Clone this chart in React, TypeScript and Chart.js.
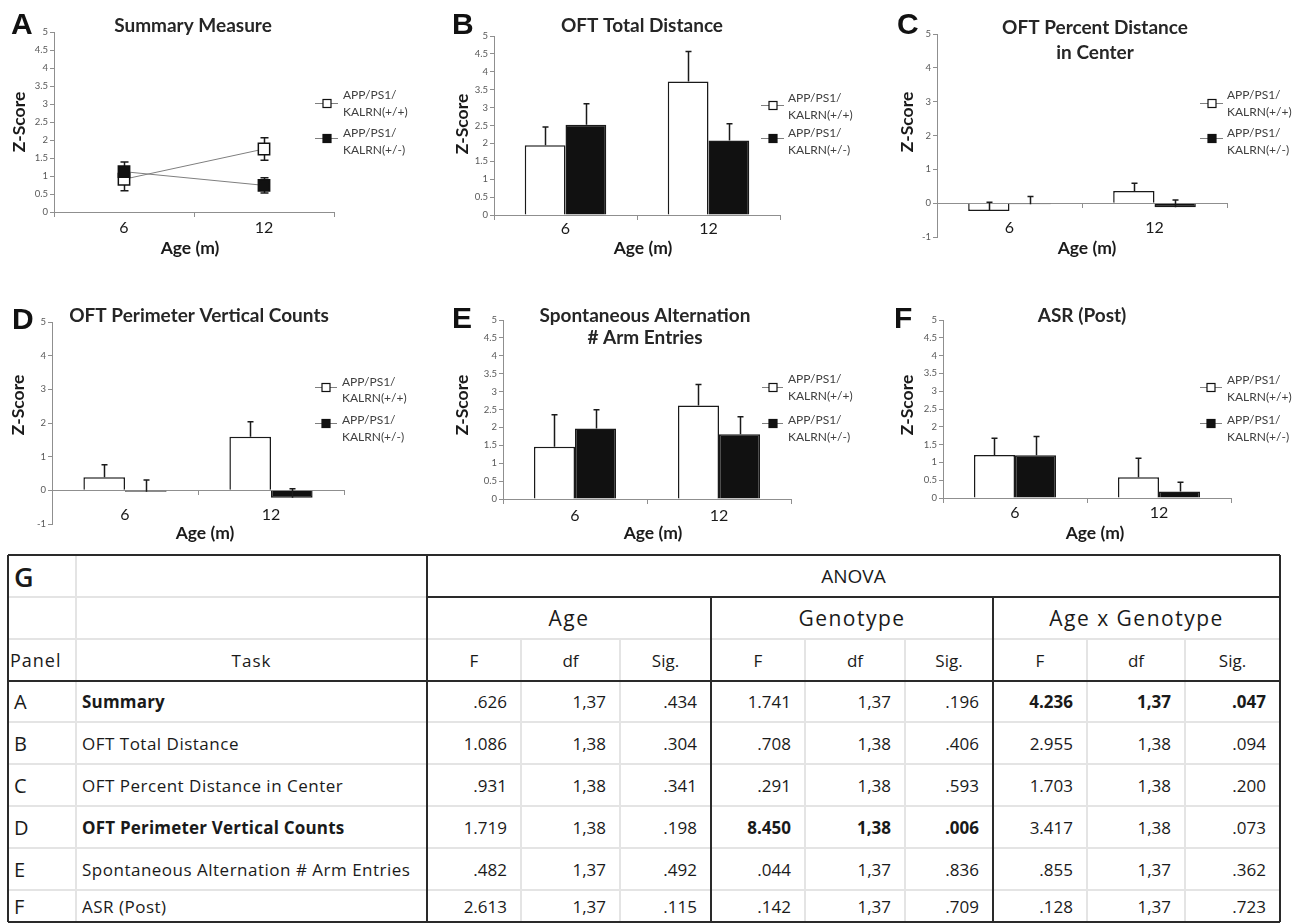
import React, { useEffect, useRef } from 'react';
import { Chart, registerables } from 'chart.js';

Chart.register(...registerables);
Chart.defaults.font.family = 'Lato, "Open Sans", sans-serif';

// ---------------- DATA ----------------
const AGES = ['6', '12'];
const LEGEND_LINES = [
  ['APP/PS1/', 'KALRN(+/+)'],
  ['APP/PS1/', 'KALRN(+/-)'],
];
const SERIES_NAMES = ['APP/PS1/KALRN(+/+)', 'APP/PS1/KALRN(+/-)'];
const Y_TITLE = 'Z-Score';
const X_TITLE = 'Age (m)';

// Panel A – Summary Measure (mean ± SEM)
const A_WT = [0.91, 1.75];
const A_WT_ERR = [0.32, 0.31];
const A_HET = [1.12, 0.74];
const A_HET_ERR = [0.27, 0.21];
// Panel B – OFT Total Distance
const B_WT = [1.95, 3.73];
const B_WT_ERR = [0.51, 0.84];
const B_HET = [2.52, 2.08];
const B_HET_ERR = [0.59, 0.47];
// Panel C – OFT Percent Distance in Center
const C_WT = [-0.23, 0.36];
const C_WT_ERR = [0.26, 0.23];
const C_HET = [-0.03, -0.12];
const C_HET_ERR = [0.23, 0.21];
// Panel D – OFT Perimeter Vertical Counts
const D_WT = [0.39, 1.59];
const D_WT_ERR = [0.37, 0.45];
const D_HET = [-0.04, -0.22];
const D_HET_ERR = [0.35, 0.27];
// Panel E – Spontaneous Alternation # Arm Entries
const E_WT = [1.46, 2.61];
const E_WT_ERR = [0.89, 0.59];
const E_HET = [1.97, 1.81];
const E_HET_ERR = [0.52, 0.49];
// Panel F – ASR (Post)
const F_WT = [1.21, 0.58];
const F_WT_ERR = [0.47, 0.54];
const F_HET = [1.2, 0.18];
const F_HET_ERR = [0.53, 0.26];

// Table G
const TABLE_LETTER = 'G';
const TABLE_TITLE = 'ANOVA';
const TABLE_GROUPS = ['Age', 'Genotype', 'Age x Genotype'];
const TABLE_STATS = ['F', 'df', 'Sig.'];
const TABLE_PANEL_HEAD = 'Panel';
const TABLE_TASK_HEAD = 'Task';
const TABLE_PANELS = ['A', 'B', 'C', 'D', 'E', 'F'];
const TABLE_TASKS = [
  'Summary',
  'OFT Total Distance',
  'OFT Percent Distance in Center',
  'OFT Perimeter Vertical Counts',
  'Spontaneous Alternation # Arm Entries',
  'ASR (Post)',
];
const AGE_F = ['.626', '1.086', '.931', '1.719', '.482', '2.613'];
const AGE_DF = ['1,37', '1,38', '1,38', '1,38', '1,37', '1,37'];
const AGE_SIG = ['.434', '.304', '.341', '.198', '.492', '.115'];
const GEN_F = ['1.741', '.708', '.291', '8.450', '.044', '.142'];
const GEN_DF = ['1,37', '1,38', '1,38', '1,38', '1,37', '1,37'];
const GEN_SIG = ['.196', '.406', '.593', '.006', '.836', '.709'];
const INT_F = ['4.236', '2.955', '1.703', '3.417', '.855', '.128'];
const INT_DF = ['1,37', '1,38', '1,38', '1,38', '1,37', '1,37'];
const INT_SIG = ['.047', '.094', '.200', '.073', '.362', '.723'];
const BOLD_TASK = [true, false, false, true, false, false];
const BOLD_AGE = [false, false, false, false, false, false];
const BOLD_GEN = [false, false, false, true, false, false];
const BOLD_INT = [true, false, false, false, false, false];

// ---------------- STYLE / LAYOUT ----------------
const YW = 30;
const AXIS_COLOR = '#8f8f8f';
const BAR_BORDER = '#1a1a1a';
const BLACK = '#111111';

type Panel = {
  letter: string;
  kind: 'line' | 'bar';
  title: string[];
  wt: number[]; wtErr: number[]; het: number[]; hetErr: number[];
  x: number; y: number; w: number; h: number;
  area: { left: number; right: number; top: number; bottom: number };
  yMin: number; yMax: number; yStep: number;
  tickPad: number;
  letterPos: [number, number];
  titleX: number; titleY: number[];
  zPos: [number, number];
  agePos: [number, number];
  leg: { mx1: number; mx2: number; tx: number; ty: number[]; my: number[] };
};

const PANELS: Panel[] = [
  {
    letter: 'A', kind: 'line', title: ['Summary Measure'],
    wt: A_WT, wtErr: A_WT_ERR, het: A_HET, hetErr: A_HET_ERR,
    x: 0, y: 0, w: 430, h: 292,
    area: { left: 54, right: 334, top: 32, bottom: 212 },
    yMin: 0, yMax: 5, yStep: 0.5, tickPad: 2,
    letterPos: [11, 34], titleX: 193, titleY: [26], zPos: [19, 122], agePos: [190, 248],
    leg: { mx1: 315, mx2: 338, tx: 343, ty: [95, 112, 133, 150], my: [103, 138] },
  },
  {
    letter: 'B', kind: 'bar', title: ['OFT Total Distance'],
    wt: B_WT, wtErr: B_WT_ERR, het: B_HET, hetErr: B_HET_ERR,
    x: 430, y: 0, w: 430, h: 292,
    area: { left: 64, right: 350, top: 36, bottom: 215 },
    yMin: 0, yMax: 5, yStep: 0.5, tickPad: 0,
    letterPos: [22, 34], titleX: 212, titleY: [26], zPos: [32, 124], agePos: [213, 248],
    leg: { mx1: 331, mx2: 354, tx: 358, ty: [98, 115, 133, 150], my: [105, 138] },
  },
  {
    letter: 'C', kind: 'bar', title: ['OFT Percent Distance', 'in Center'],
    wt: C_WT, wtErr: C_WT_ERR, het: C_HET, hetErr: C_HET_ERR,
    x: 860, y: 0, w: 443, h: 292,
    area: { left: 77, right: 367, top: 34, bottom: 237 },
    yMin: -1, yMax: 5, yStep: 1, tickPad: 11,
    letterPos: [37, 34], titleX: 235, titleY: [28, 53], zPos: [47, 122], agePos: [227, 248],
    leg: { mx1: 340, mx2: 363, tx: 367, ty: [95, 112, 133, 150], my: [103, 138] },
  },
  {
    letter: 'D', kind: 'bar', title: ['OFT Perimeter Vertical Counts'],
    wt: D_WT, wtErr: D_WT_ERR, het: D_HET, hetErr: D_HET_ERR,
    x: 0, y: 292, w: 430, h: 258,
    area: { left: 52, right: 344, top: 30, bottom: 232 },
    yMin: -1, yMax: 5, yStep: 1, tickPad: 11,
    letterPos: [12, 37], titleX: 199, titleY: [24], zPos: [18, 113], agePos: [205, 241],
    leg: { mx1: 315, mx2: 337, tx: 342, ty: [90, 106, 128, 145], my: [95, 131] },
  },
  {
    letter: 'E', kind: 'bar', title: ['Spontaneous Alternation', '# Arm Entries'],
    wt: E_WT, wtErr: E_WT_ERR, het: E_HET, hetErr: E_HET_ERR,
    x: 430, y: 292, w: 430, h: 258,
    area: { left: 73, right: 361, top: 28, bottom: 207 },
    yMin: 0, yMax: 5, yStep: 0.5, tickPad: 3,
    letterPos: [22, 36], titleX: 215, titleY: [24, 46], zPos: [32, 113], agePos: [223, 241],
    leg: { mx1: 332, mx2: 353, tx: 358, ty: [87, 104, 128, 145], my: [95, 131] },
  },
  {
    letter: 'F', kind: 'bar', title: ['ASR (Post)'],
    wt: F_WT, wtErr: F_WT_ERR, het: F_HET, hetErr: F_HET_ERR,
    x: 860, y: 292, w: 443, h: 258,
    area: { left: 83, right: 371, top: 28, bottom: 206 },
    yMin: 0, yMax: 5, yStep: 0.5, tickPad: 1,
    letterPos: [34, 36], titleX: 222, titleY: [24], zPos: [47, 113], agePos: [235, 241],
    leg: { mx1: 340, mx2: 362, tx: 367, ty: [88, 105, 128, 145], my: [95, 131] },
  },
];

function drawErrors(chart: any, both: boolean, cap: number) {
  const ctx = chart.ctx;
  const ys = chart.scales.y;
  ctx.save();
  ctx.strokeStyle = '#1a1a1a';
  ctx.lineWidth = 1.5;
  chart.data.datasets.forEach((ds: any, i: number) => {
    const meta = chart.getDatasetMeta(i);
    meta.data.forEach((el: any, j: number) => {
      const v = ds.data[j];
      const e = ds.errors[j];
      const x = Math.round(el.x) + 0.5;
      const yTop = ys.getPixelForValue(v + e);
      const yBot = ys.getPixelForValue(both ? v - e : v);
      ctx.beginPath();
      ctx.moveTo(x, yBot);
      ctx.lineTo(x, yTop);
      ctx.moveTo(x - cap, yTop);
      ctx.lineTo(x + cap, yTop);
      if (both) {
        ctx.moveTo(x - cap, yBot);
        ctx.lineTo(x + cap, yBot);
      }
      ctx.stroke();
    });
  });
  ctx.restore();
}

const errorBarsPlugin = {
  id: 'errorBars',
  beforeDatasetsDraw(chart: any, _a: any, opts: any) {
    if (opts.both) drawErrors(chart, true, 4);
  },
  afterDatasetsDraw(chart: any, _a: any, opts: any) {
    if (!opts.both) drawErrors(chart, false, 3);
  },
};

function makeDecor(p: Panel) {
  return {
    id: 'decor',
    afterDraw(chart: any) {
      const ctx = chart.ctx;
      ctx.save();
      // panel letter
      ctx.fillStyle = '#111';
      ctx.textAlign = 'left';
      ctx.textBaseline = 'alphabetic';
      ctx.font = 'bold 30px "Liberation Sans", Arial, sans-serif';
      ctx.fillText(p.letter, p.letterPos[0], p.letterPos[1]);
      // title
      ctx.fillStyle = '#262626';
      ctx.textAlign = 'center';
      ctx.textBaseline = 'middle';
      ctx.font = 'bold 19px Lato, sans-serif';
      p.title.forEach((t, i) => ctx.fillText(t, p.titleX, p.titleY[i]));
      // x title
      ctx.font = 'bold 17.5px Lato, sans-serif';
      ctx.fillStyle = '#1a1a1a';
      ctx.fillText(X_TITLE, p.agePos[0], p.agePos[1]);
      // y title
      ctx.save();
      ctx.translate(p.zPos[0], p.zPos[1]);
      ctx.rotate(-Math.PI / 2);
      ctx.fillText(Y_TITLE, 0, 0);
      ctx.restore();
      // legend
      const fills = ['#ffffff', BLACK];
      for (let k = 0; k < 2; k++) {
        const my = p.leg.my[k] + 0.5;
        ctx.strokeStyle = '#7f7f7f';
        ctx.lineWidth = 1;
        ctx.beginPath();
        ctx.moveTo(p.leg.mx1, my);
        ctx.lineTo(p.leg.mx2, my);
        ctx.stroke();
        const cx = Math.round((p.leg.mx1 + p.leg.mx2) / 2);
        ctx.fillStyle = fills[k];
        ctx.fillRect(cx - 4, my - 4, 8, 8);
        ctx.strokeStyle = '#111';
        ctx.lineWidth = 1.2;
        ctx.strokeRect(cx - 4, my - 4, 8, 8);
        ctx.fillStyle = '#404040';
        ctx.textAlign = 'left';
        ctx.font = '12px Lato, sans-serif';
        ctx.fillText(LEGEND_LINES[k][0], p.leg.tx, p.leg.ty[k * 2]);
        ctx.fillText(LEGEND_LINES[k][1], p.leg.tx, p.leg.ty[k * 2 + 1]);
      }
      ctx.restore();
    },
  };
}

function buildConfig(p: Panel): any {
  const isLine = p.kind === 'line';
  const datasets = isLine
    ? [
        {
          label: SERIES_NAMES[0], data: p.wt, errors: p.wtErr, order: 1,
          borderColor: '#7f7f7f', borderWidth: 1, tension: 0,
          pointStyle: 'rect', pointRadius: 8, pointBackgroundColor: '#ffffff',
          pointBorderColor: '#111', pointBorderWidth: 1.5,
        },
        {
          label: SERIES_NAMES[1], data: p.het, errors: p.hetErr, order: 0,
          borderColor: '#7f7f7f', borderWidth: 1, tension: 0,
          pointStyle: 'rect', pointRadius: 8, pointBackgroundColor: BLACK,
          pointBorderColor: '#111', pointBorderWidth: 1.5,
        },
      ]
    : [
        {
          label: SERIES_NAMES[0], data: p.wt, errors: p.wtErr,
          backgroundColor: '#ffffff', borderColor: BAR_BORDER, borderWidth: 1.5,
          categoryPercentage: 0.57, barPercentage: 1,
        },
        {
          label: SERIES_NAMES[1], data: p.het, errors: p.hetErr,
          backgroundColor: BLACK, borderColor: BAR_BORDER, borderWidth: 1.5,
          categoryPercentage: 0.57, barPercentage: 1,
        },
      ];
  return {
    type: p.kind,
    data: { labels: AGES, datasets },
    plugins: [errorBarsPlugin, makeDecor(p)],
    options: {
      responsive: false,
      maintainAspectRatio: false,
      animation: false,
      events: [],
      layout: {
        padding: {
          left: p.area.left - YW,
          right: p.w - p.area.right,
          top: p.area.top,
          bottom: p.h - p.area.bottom,
        },
      },
      plugins: {
        legend: { display: false },
        title: { display: false },
        tooltip: { enabled: false },
        errorBars: { both: isLine },
      },
      scales: {
        x: {
          type: 'category',
          offset: true,
          position: { y: 0 },
          grid: {
            display: true, drawOnChartArea: false, drawTicks: true, tickLength: 4,
            offset: true, color: AXIS_COLOR, lineWidth: 1,
          },
          border: { display: true, color: AXIS_COLOR, width: 1 },
          ticks: {
            color: '#1a1a1a', font: { size: 16, family: 'Lato, sans-serif' },
            padding: p.tickPad, maxRotation: 0, autoSkip: false,
          },
        },
        y: {
          type: 'linear',
          position: 'left',
          min: p.yMin,
          max: p.yMax,
          afterFit: (s: any) => { s.width = YW; },
          grid: { drawOnChartArea: false, tickLength: 4, color: AXIS_COLOR },
          border: { display: true, color: AXIS_COLOR, width: 1 },
          ticks: {
            stepSize: p.yStep, color: '#595959', padding: 2,
            font: { size: 9.5, family: 'Lato, sans-serif' },
            callback: (v: any) => String(Math.round(Number(v) * 10) / 10),
          },
        },
      },
    },
  };
}

function ChartPanel({ p }: { p: Panel }) {
  const ref = useRef<HTMLCanvasElement>(null);
  useEffect(() => {
    const chart = new Chart(ref.current as HTMLCanvasElement, buildConfig(p));
    return () => chart.destroy();
  }, []);
  return (
    <canvas
      ref={ref}
      width={p.w}
      height={p.h}
      style={{ position: 'absolute', left: p.x, top: p.y, width: p.w, height: p.h }}
    />
  );
}

// ---------------- TABLE ----------------
const COLS = [8, 76, 427, 521, 620, 711, 805, 905, 993, 1087, 1185, 1280];
const ROWS = [555, 597, 639, 681, 722, 764, 806, 848, 890, 922];
const TFONT = '"Open Sans", "Noto Sans", sans-serif';

function Cell(props: {
  c0: number; c1: number; r0: number; r1: number; text: string;
  align?: 'left' | 'center' | 'right'; bold?: boolean; size?: number;
  pl?: number; pr?: number; ls?: number; weight?: number; dy?: number;
}) {
  const { c0, c1, r0, r1, text, align = 'center', bold, size = 16, pl = 0, pr = 0, ls = 0, weight, dy = 0 } = props;
  return (
    <div
      style={{
        position: 'absolute', left: c0, top: r0 + dy, width: c1 - c0, height: r1 - r0,
        display: 'flex', alignItems: 'center',
        justifyContent: align === 'left' ? 'flex-start' : align === 'right' ? 'flex-end' : 'center',
        paddingLeft: pl, paddingRight: pr, boxSizing: 'border-box',
        fontFamily: TFONT, fontSize: size, fontWeight: weight ?? (bold ? 700 : 400),
        letterSpacing: ls, color: '#1a1a1a', whiteSpace: 'nowrap',
      }}
    >
      {text}
    </div>
  );
}

function Line(props: { x0: number; y0: number; x1: number; y1: number; thick?: boolean }) {
  const { x0, y0, x1, y1, thick } = props;
  const t = 2;
  const horiz = y0 === y1;
  return (
    <div
      style={{
        position: 'absolute',
        left: horiz ? x0 : x0 - t / 2,
        top: horiz ? y0 - t / 2 : y0,
        width: horiz ? x1 - x0 : t,
        height: horiz ? t : y1 - y0,
        background: thick ? '#2a2a2a' : '#e4e4e4',
      }}
    />
  );
}

function AnovaTable() {
  const cols = [AGE_F, AGE_DF, AGE_SIG, GEN_F, GEN_DF, GEN_SIG, INT_F, INT_DF, INT_SIG];
  const bolds = [BOLD_AGE, BOLD_AGE, BOLD_AGE, BOLD_GEN, BOLD_GEN, BOLD_GEN, BOLD_INT, BOLD_INT, BOLD_INT];
  const top = ROWS[0], bottom = ROWS[ROWS.length - 1], L = COLS[0], R = COLS[COLS.length - 1];
  const lines: any[] = [];
  // light lines
  lines.push(<Line key="l1" x0={COLS[1]} y0={top} x1={COLS[1]} y1={bottom} />);
  lines.push(<Line key="l2" x0={L} y0={ROWS[1]} x1={COLS[2]} y1={ROWS[1]} />);
  lines.push(<Line key="l3" x0={L} y0={ROWS[2]} x1={R} y1={ROWS[2]} />);
  [3, 4, 6, 7, 9, 10].forEach((c) =>
    lines.push(<Line key={'lv' + c} x0={COLS[c]} y0={ROWS[2]} x1={COLS[c]} y1={bottom} />)
  );
  for (let r = 4; r < ROWS.length - 1; r++)
    lines.push(<Line key={'lh' + r} x0={L} y0={ROWS[r]} x1={R} y1={ROWS[r]} />);
  // thick lines
  lines.push(<Line key="t1" thick x0={L} y0={top} x1={R} y1={top} />);
  lines.push(<Line key="t2" thick x0={L} y0={bottom} x1={R} y1={bottom} />);
  lines.push(<Line key="t3" thick x0={L} y0={top} x1={L} y1={bottom} />);
  lines.push(<Line key="t4" thick x0={R} y0={top} x1={R} y1={bottom} />);
  lines.push(<Line key="t5" thick x0={COLS[2]} y0={top} x1={COLS[2]} y1={bottom} />);
  lines.push(<Line key="t6" thick x0={COLS[2]} y0={ROWS[1]} x1={R} y1={ROWS[1]} />);
  lines.push(<Line key="t7" thick x0={COLS[5]} y0={ROWS[1]} x1={COLS[5]} y1={bottom} />);
  lines.push(<Line key="t8" thick x0={COLS[8]} y0={ROWS[1]} x1={COLS[8]} y1={bottom} />);
  lines.push(<Line key="t9" thick x0={L} y0={ROWS[3]} x1={R} y1={ROWS[3]} />);

  const cells: any[] = [];
  cells.push(<Cell key="g" c0={COLS[0]} c1={COLS[1]} r0={ROWS[0]} r1={ROWS[1]} text={TABLE_LETTER} align="left" pl={6} size={27} weight={600} />);
  cells.push(<Cell key="anova" c0={COLS[2]} c1={R} r0={ROWS[0]} r1={ROWS[1]} text={TABLE_TITLE} size={19} />);
  TABLE_GROUPS.forEach((g, i) =>
    cells.push(<Cell key={'g' + i} c0={COLS[2 + i * 3]} c1={COLS[5 + i * 3]} r0={ROWS[1]} r1={ROWS[2]} text={g} size={21} ls={1.5} />)
  );
  cells.push(<Cell key="ph" c0={COLS[0]} c1={COLS[1]} r0={ROWS[2]} r1={ROWS[3]} text={TABLE_PANEL_HEAD} align="left" pl={2} size={18} ls={1} />);
  cells.push(<Cell key="th" c0={COLS[1]} c1={COLS[2]} r0={ROWS[2]} r1={ROWS[3]} text={TABLE_TASK_HEAD} size={17} ls={1} />);
  for (let c = 0; c < 9; c++)
    cells.push(<Cell key={'s' + c} c0={COLS[2 + c]} c1={COLS[3 + c]} r0={ROWS[2]} r1={ROWS[3]} text={TABLE_STATS[c % 3]} size={17} />);
  TABLE_PANELS.forEach((pl, r) => {
    const r0 = ROWS[3 + r], r1 = ROWS[4 + r];
    cells.push(<Cell key={'p' + r} c0={COLS[0]} c1={COLS[1]} r0={r0} r1={r1} text={pl} align="left" pl={6} size={20} />);
    cells.push(<Cell key={'t' + r} c0={COLS[1]} c1={COLS[2]} r0={r0} r1={r1} text={TABLE_TASKS[r]} align="left" pl={6} size={17} bold={BOLD_TASK[r]} ls={BOLD_TASK[r] ? 0.2 : 0.5} />);
    cols.forEach((arr, c) =>
      cells.push(<Cell key={'v' + r + '_' + c} c0={COLS[2 + c]} c1={COLS[3 + c]} r0={r0} r1={r1} text={arr[r]} align="right" pr={14} size={17} bold={bolds[c][r]} />)
    );
  });
  return (
    <>
      {lines}
      {cells}
    </>
  );
}

export default function App() {
  return (
    <div
      style={{
        position: 'absolute', left: 0, top: 0, width: 1303, height: 923,
        background: '#ffffff', overflow: 'hidden',
      }}
    >
      {PANELS.map((p) => (
        <ChartPanel key={p.letter} p={p} />
      ))}
      <AnovaTable />
    </div>
  );
}
